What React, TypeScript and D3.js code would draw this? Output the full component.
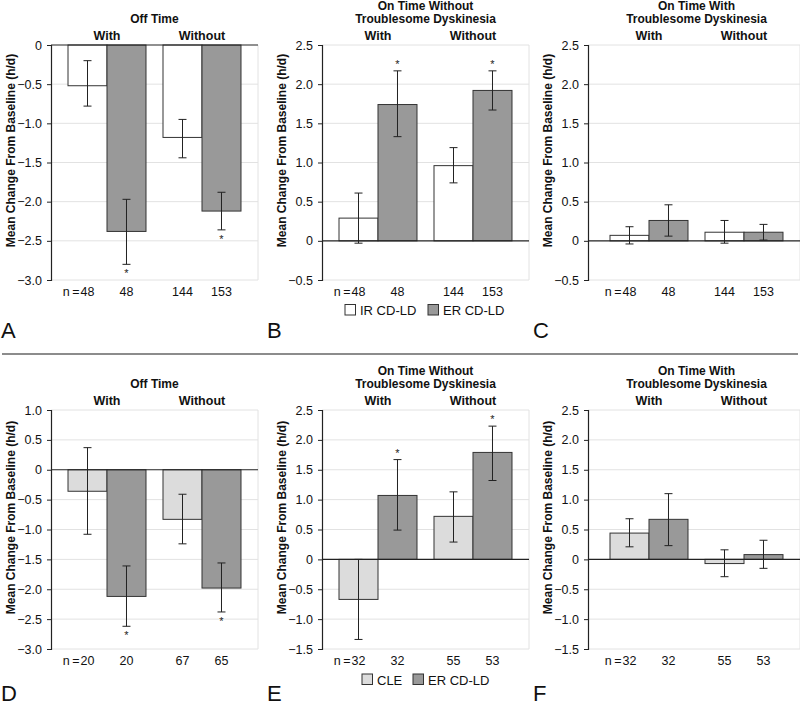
import * as d3 from 'd3';
import { useEffect, useRef } from 'react';

// categories
const groups = ["With", "Without"];
const seriesKeys = ["ctrl", "er"];
const legendTop = ["IR CD-LD", "ER CD-LD"];
const legendBottom = ["CLE", "ER CD-LD"];

// tick labels
const ticksOffTop = [0, -0.5, -1.0, -1.5, -2.0, -2.5, -3.0];
const ticksOnTop = [2.5, 2.0, 1.5, 1.0, 0.5, 0, -0.5];
const ticksOffBottom = [1.0, 0.5, 0, -0.5, -1.0, -1.5, -2.0, -2.5, -3.0];
const ticksOnBottom = [2.5, 2.0, 1.5, 1.0, 0.5, 0, -0.5, -1.0, -1.5];

// sample sizes, order: with/ctrl, with/ER, without/ctrl, without/ER
const nTop = ["48", "48", "144", "153"];
const nBottomD = ["20", "20", "67", "65"];
const nBottomEF = ["32", "32", "55", "53"];

// A: off time, IR vs ER
const meanA = [-0.52, -2.38, -1.18, -2.12];
const lowA = [-0.78, -2.80, -1.44, -2.36];
const highA = [-0.20, -1.97, -0.95, -1.88];
// B: on time without troublesome dyskinesia
const meanB = [0.29, 1.74, 0.96, 1.92];
const lowB = [-0.03, 1.33, 0.74, 1.67];
const highB = [0.61, 2.17, 1.19, 2.17];
// C: on time with troublesome dyskinesia
const meanC = [0.07, 0.26, 0.11, 0.11];
const lowC = [-0.04, 0.06, -0.03, 0.01];
const highC = [0.18, 0.46, 0.26, 0.21];
// D: off time, CLE vs ER
const meanD = [-0.36, -2.12, -0.83, -1.98];
const lowD = [-1.08, -2.62, -1.24, -2.38];
const highD = [0.37, -1.61, -0.41, -1.56];
// E
const meanE = [-0.67, 1.07, 0.72, 1.79];
const lowE = [-1.34, 0.49, 0.29, 1.32];
const highE = [0, 1.67, 1.13, 2.23];
// F
const meanF = [0.44, 0.67, -0.07, 0.08];
const lowF = [0.21, 0.23, -0.29, -0.15];
const highF = [0.68, 1.10, 0.16, 0.32];

const starsSig = [false, true, false, true];
const starsNone = [false, false, false, false];

const ER_FILL = "#999999";
const IR_FILL = "#ffffff";
const CLE_FILL = "#dcdcdc";
const FONT = "'Liberation Sans', Arial, Helvetica, sans-serif";

const colAxis = [51, 322, 588];
const colShift = [0, 0, 5];
const colWidth = [207, 207, 212];
const rowY = [[45, 280], [410, 649]];

const panels = [
    { letter: "A", col: 0, row: 0, title: ["Off Time"], mean: meanA, low: lowA, high: highA, stars: starsSig, n: nTop, ticks: ticksOffTop, ctrl: IR_FILL, legend: null },
    { letter: "B", col: 1, row: 0, title: ["On Time Without", "Troublesome Dyskinesia"], mean: meanB, low: lowB, high: highB, stars: starsSig, n: nTop, ticks: ticksOnTop, ctrl: IR_FILL, legend: { labels: legendTop, xs: [23, 106] } },
    { letter: "C", col: 2, row: 0, title: ["On Time With", "Troublesome Dyskinesia"], mean: meanC, low: lowC, high: highC, stars: starsNone, n: nTop, ticks: ticksOnTop, ctrl: IR_FILL, legend: null },
    { letter: "D", col: 0, row: 1, title: ["Off Time"], mean: meanD, low: lowD, high: highD, stars: starsSig, n: nBottomD, ticks: ticksOffBottom, ctrl: CLE_FILL, legend: null },
    { letter: "E", col: 1, row: 1, title: ["On Time Without", "Troublesome Dyskinesia"], mean: meanE, low: lowE, high: highE, stars: starsSig, n: nBottomEF, ticks: ticksOnBottom, ctrl: CLE_FILL, legend: { labels: legendBottom, xs: [40, 91] } },
    { letter: "F", col: 2, row: 1, title: ["On Time With", "Troublesome Dyskinesia"], mean: meanF, low: lowF, high: highF, stars: starsNone, n: nBottomEF, ticks: ticksOnBottom, ctrl: CLE_FILL, legend: null },
];

function drawPanel(svg: any, p: any) {
    const left = colAxis[p.col];
    const right = left + colWidth[p.col];
    const [top, bottom] = rowY[p.row];

    const y = d3.scaleLinear()
        .domain([d3.min(p.ticks) as number, d3.max(p.ticks) as number])
        .range([bottom, top]);

    const x0 = d3.scaleBand()
        .domain(groups)
        .range([left + colShift[p.col], left + colShift[p.col] + 207])
        .paddingInner(0.179)
        .paddingOuter(0.179);

    const x1 = d3.scaleBand()
        .domain(seriesKeys)
        .range([0, x0.bandwidth()]);

    const g = svg.append("g");

    // gridlines
    g.selectAll(".grid")
        .data(p.ticks.filter((t: number) => t !== 0))
        .join("line")
        .attr("x1", left).attr("x2", right)
        .attr("y1", (d: number) => y(d)).attr("y2", (d: number) => y(d))
        .attr("stroke", "#e2e2e2")
        .attr("stroke-width", 1);

    g.append("line")
        .attr("x1", right).attr("x2", right)
        .attr("y1", top).attr("y2", bottom)
        .attr("stroke", "#e2e2e2");

    const rows = p.mean.map((m: number, i: number) => ({
        group: groups[Math.floor(i / 2)],
        key: seriesKeys[i % 2],
        m, lo: p.low[i], hi: p.high[i], star: p.stars[i], n: p.n[i], i,
    }));

    const cx = (d: any) => (x0(d.group) as number) + (x1(d.key) as number) + x1.bandwidth() / 2;

    g.selectAll(".bar")
        .data(rows)
        .join("rect")
        .attr("x", (d: any) => (x0(d.group) as number) + (x1(d.key) as number))
        .attr("y", (d: any) => Math.min(y(d.m), y(0)))
        .attr("width", x1.bandwidth())
        .attr("height", (d: any) => Math.abs(y(d.m) - y(0)))
        .attr("fill", (d: any) => d.key === "er" ? ER_FILL : p.ctrl)
        .attr("stroke", "#333")
        .attr("stroke-width", 1);

    // zero line
    g.append("line")
        .attr("x1", left).attr("x2", right)
        .attr("y1", y(0)).attr("y2", y(0))
        .attr("stroke", "#222")
        .attr("stroke-width", 1.2);

    // error bars
    const err = g.selectAll(".err").data(rows).join("g");
    err.append("line")
        .attr("x1", cx).attr("x2", cx)
        .attr("y1", (d: any) => y(d.lo)).attr("y2", (d: any) => y(d.hi))
        .attr("stroke", "#222");
    err.append("line")
        .attr("x1", (d: any) => cx(d) - 4).attr("x2", (d: any) => cx(d) + 4)
        .attr("y1", (d: any) => y(d.lo)).attr("y2", (d: any) => y(d.lo))
        .attr("stroke", "#222");
    err.append("line")
        .attr("x1", (d: any) => cx(d) - 4).attr("x2", (d: any) => cx(d) + 4)
        .attr("y1", (d: any) => y(d.hi)).attr("y2", (d: any) => y(d.hi))
        .attr("stroke", "#222");

    g.selectAll(".star")
        .data(rows.filter((d: any) => d.star))
        .join("text")
        .attr("x", cx)
        .attr("y", (d: any) => d.m < 0 ? y(d.lo) + 13 : y(d.hi) - 3)
        .attr("text-anchor", "middle")
        .attr("font-family", FONT)
        .attr("font-size", 11)
        .attr("fill", "#222")
        .text("*");

    // y axis
    const axis = g.append("g")
        .attr("transform", `translate(${left},0)`)
        .call(d3.axisLeft(y)
            .tickValues(p.ticks)
            .tickSize(4)
            .tickPadding(5)
            .tickFormat((d: any) => d === 0 ? "0" : d3.format(".1f")(d)));
    axis.select(".domain").attr("stroke", "#222").attr("stroke-width", 1.2);
    axis.selectAll(".tick line").attr("stroke", "#222");
    axis.selectAll(".tick text")
        .attr("font-family", FONT)
        .attr("font-size", 12.5)
        .attr("fill", "#111");

    g.append("text")
        .attr("transform", `translate(${left - 40},${(top + bottom) / 2 - 12}) rotate(-90)`)
        .attr("text-anchor", "middle")
        .attr("dominant-baseline", "central")
        .attr("font-family", FONT)
        .attr("font-weight", "bold")
        .attr("font-size", 12)
        .attr("fill", "#111")
        .text("Mean Change From Baseline (h/d)");

    // titles
    const titleX = (left + left + 207) / 2 + colShift[p.col];
    const lines = p.title.length === 1 ? [null, p.title[0]] : p.title;
    lines.forEach((t: string | null, k: number) => {
        if (!t) return;
        g.append("text")
            .attr("x", titleX)
            .attr("y", top - (k === 0 ? 35 : 22))
            .attr("text-anchor", "middle")
            .attr("font-family", FONT)
            .attr("font-weight", "bold")
            .attr("font-size", 12)
            .attr("fill", "#111")
            .text(t);
    });

    g.selectAll(".grp")
        .data(groups)
        .join("text")
        .attr("x", (d: string) => (x0(d) as number) + x0.bandwidth() / 2)
        .attr("y", top - 5)
        .attr("text-anchor", "middle")
        .attr("font-family", FONT)
        .attr("font-weight", "bold")
        .attr("font-size", 12.5)
        .attr("fill", "#111")
        .text((d: string) => d);

    // n labels
    g.selectAll(".nlab")
        .data(rows)
        .join("text")
        .attr("x", cx)
        .attr("y", bottom + 15.5)
        .attr("text-anchor", "middle")
        .attr("font-family", FONT)
        .attr("font-size", 12.5)
        .attr("fill", "#111")
        .text((d: any) => d.n);
    g.append("text")
        .attr("x", cx(rows[0]) - 8)
        .attr("y", bottom + 15.5)
        .attr("text-anchor", "end")
        .attr("font-family", FONT)
        .attr("font-size", 12.5)
        .attr("fill", "#111")
        .text("n\u2009=");

    // legend
    if (p.legend) {
        const ly = p.row === 0 ? bottom + 24.5 : bottom + 25;
        p.legend.labels.forEach((lab: string, k: number) => {
            const lx = left + p.legend.xs[k];
            g.append("rect")
                .attr("x", lx).attr("y", ly)
                .attr("width", 10.5).attr("height", 10.5)
                .attr("fill", k === 1 ? ER_FILL : p.ctrl)
                .attr("stroke", "#333");
            g.append("text")
                .attr("x", lx + 15)
                .attr("y", ly + 10.5)
                .attr("font-family", FONT)
                .attr("font-size", 13)
                .attr("fill", "#111")
                .text(lab);
        });
    }

    // panel letter
    g.append("text")
        .attr("x", p.col === 0 ? 1 : colAxis[p.col] - 55)
        .attr("y", p.row === 0 ? 338 : 701)
        .attr("font-family", FONT)
        .attr("font-size", 22)
        .attr("fill", "#111")
        .text(p.letter);
}

function App() {
    const svgRef = useRef(null);

    useEffect(() => {
        if (!svgRef.current) return;
        const svg = d3.select(svgRef.current);
        svg.selectAll('*').remove();

        svg.append("rect")
            .attr("width", 800).attr("height", 707)
            .attr("fill", "white");

        panels.forEach(p => drawPanel(svg, p));

        // divider between the two rows
        svg.append("line")
            .attr("x1", 2).attr("x2", 798)
            .attr("y1", 354).attr("y2", 354)
            .attr("stroke", "#666")
            .attr("stroke-width", 1.5);

        return () => {
            d3.select(svgRef.current).selectAll("*").remove();
        };
    }, []);

    return (
        <svg ref={svgRef} width={800} height={707}
            style={{ position: 'absolute', left: 0, top: 0, display: 'block' }}></svg>
    );
}

export default App;
